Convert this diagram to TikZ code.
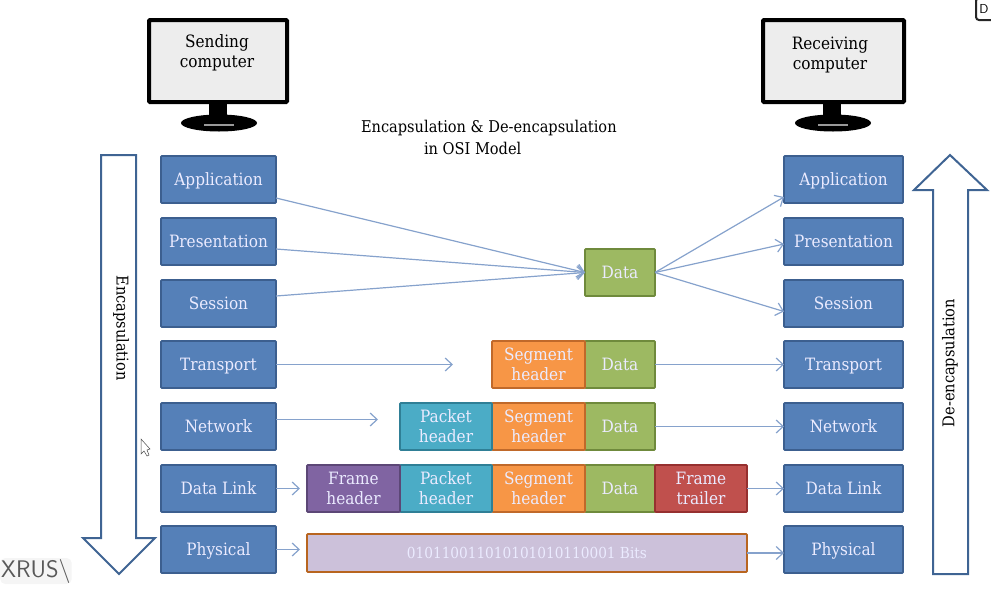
\documentclass[tikz,border=0pt]{standalone}
\usepackage{fontspec}
\setmainfont{DejaVu Serif Condensed}
\usetikzlibrary{arrows.meta,positioning,calc}
\definecolor{cBlue}{HTML}{5580B8}
\definecolor{cBlueLn}{HTML}{3C5F8F}
\definecolor{cLink}{HTML}{86A2CC}
\definecolor{cGreen}{HTML}{9DB962}
\definecolor{cGreenLn}{HTML}{6F8A3C}
\definecolor{cOrange}{HTML}{F79646}
\definecolor{cOrangeLn}{HTML}{C0692A}
\definecolor{cTeal}{HTML}{4BACC6}
\definecolor{cTealLn}{HTML}{2F7F96}
\definecolor{cPurple}{HTML}{8064A2}
\definecolor{cPurpleLn}{HTML}{5C4776}
\definecolor{cRed}{HTML}{C0504D}
\definecolor{cRedLn}{HTML}{96302F}
\definecolor{cLilac}{HTML}{CCC1DA}
\definecolor{cBitsLn}{HTML}{B8651F}
\definecolor{cArrowLn}{HTML}{3F6493}
\tikzset{
  x=1pt, y=-1pt,
  block/.style={draw, line width=1.8pt, rounded corners=0.8pt, align=center, text=white!92!blue,
    font=\fontsize{17}{20}\selectfont, inner sep=0pt, outer sep=0pt, minimum height=47pt, anchor=north west},
  layer/.style={block, draw=cBlueLn, fill=cBlue, minimum width=115pt, text height=15pt, text depth=3pt},
  rlayer/.style={layer, minimum width=119pt},
  datablk/.style={block, draw=cGreenLn, fill=cGreen, minimum width=70pt},
  seghdr/.style={block, draw=cOrangeLn, fill=cOrange, minimum width=93pt},
  pkthdr/.style={block, draw=cTealLn, fill=cTeal, minimum width=92pt},
  frmhdr/.style={block, draw=cPurpleLn, fill=cPurple, minimum width=93pt},
  frmtrl/.style={block, draw=cRedLn, fill=cRed, minimum width=92pt},
  flow/.style={-{Straight Barb[length=7pt,width=13pt]}, draw=cLink, line width=1.2pt},
  bigarrow/.style={draw=cArrowLn, line width=2pt, fill=white, miter limit=10},
  caption/.style={font=\fontsize{16.2}{20}\selectfont, text=black, inner sep=0pt, outer sep=0pt},
  screen/.style={draw=black, line width=4pt, rounded corners=1pt, fill=gray!14, minimum height=82pt,
    inner sep=0pt, outer sep=0pt, anchor=north west},
}
\begin{document}
\begin{tikzpicture}
    \useasboundingbox (0,0) rectangle (991,590);
    % --- monitors ---
    \foreach \mx/\mname/\mw in {147/sendmon/138,761/recvmon/141}{
      \fill[black] (\mx+62,104) rectangle (\mx+80,119);
      \fill[black] (\mx+72,123) ellipse [x radius=38pt, y radius=8.5pt];
      \fill[gray!80] (\mx+57,124) rectangle (\mx+87,126);
      \node[screen, minimum width=\mw pt] (\mname) at (\mx+2,20) {};
    }
    \node[caption, align=center, font=\fontsize{17}{20}\selectfont] (sendlbl) at (217,53) {Sending\\computer};
    \node[caption, align=center, font=\fontsize{17}{20}\selectfont] (recvlbl) at (830,55) {Receiving\\computer};
    % --- title ---
    \node[caption, anchor=west] (title) at (361,128) {Encapsulation \& De-encapsulation};
    \node[caption, anchor=west] (title2) at (424,148) {in OSI Model};
    % --- big arrows ---
    \draw[bigarrow] (101,155) -- (136,155) -- (136,538) -- (155,538) -- (119,574) -- (83,538)
      -- (101,538) -- cycle;
    \draw[bigarrow] (933,574) -- (968,574) -- (968,190) -- (987,190) -- (950,155) -- (914,190)
      -- (933,190) -- cycle;
    \node[caption, rotate=-90] (enclbl) at (121,328) {Encapsulation};
    \node[caption, rotate=90] (declbl) at (950,363) {De-encapsulation};
    % --- layers ---
    \node[layer] (lapp) at (161,156) {Application};
    \node[layer] (lpre) at (161,218) {Presentation};
    \node[layer] (lses) at (161,280) {Session};
    \node[layer] (ltra) at (161,341) {Transport};
    \node[layer] (lnet) at (161,403) {Network};
    \node[layer] (llnk) at (161,465) {Data Link};
    \node[layer] (lphy) at (161,526) {Physical};
    \node[rlayer] (rapp) at (784,156) {Application};
    \node[rlayer] (rpre) at (784,218) {Presentation};
    \node[rlayer] (rses) at (784,280) {Session};
    \node[rlayer] (rtra) at (784,341) {Transport};
    \node[rlayer] (rnet) at (784,403) {Network};
    \node[rlayer] (rlnk) at (784,465) {Data Link};
    \node[rlayer] (rphy) at (784,526) {Physical};
    % --- data units ---
    \node[datablk] (d1) at (585,249) {Data};
    \node[datablk] (d2) at (585,341) {Data};
    \node[seghdr, anchor=north east] (s2) at (d2.north west) {Segment\\header};
    \node[datablk] (d3) at (585,403) {Data};
    \node[seghdr, anchor=north east] (s3) at (d3.north west) {Segment\\header};
    \node[pkthdr, anchor=north east] (p3) at (s3.north west) {Packet\\header};
    \node[datablk] (d4) at (585,465) {Data};
    \node[seghdr, anchor=north east] (s4) at (d4.north west) {Segment\\header};
    \node[pkthdr, anchor=north east] (p4) at (s4.north west) {Packet\\header};
    \node[frmhdr, anchor=north east] (f4) at (p4.north west) {Frame\\header};
    \node[frmtrl, anchor=north west] (t4) at (d4.north east) {Frame\\trailer};
    \node[block, draw=cBitsLn, fill=cLilac, minimum width=440pt, minimum height=38pt,
      font=\fontsize{15.2}{18}\selectfont] (bits) at (307,534) {010110011010101010110001 Bits};
    % --- free ends ---
    \coordinate (e2) at (453,364.5);
    \coordinate (e3) at (378,419.5);
    \coordinate (e4) at (300,488.5);
    \coordinate (e5) at (300,549.5);
    % --- flows ---
    \draw[flow] ([yshift=-18.5pt]lapp.east) -- (d1.west);
    \draw[flow] ([yshift=-7.5pt]lpre.east) -- (d1.west);
    \draw[flow] ([yshift=7.5pt]lses.east) -- (d1.west);
    \draw[flow] (d1.east) -- ([yshift=-17.5pt]rapp.west);
    \draw[flow] (d1.east) -- ([yshift=-2.5pt]rpre.west);
    \draw[flow] (d1.east) -- ([yshift=-8pt]rses.west);
    \draw[flow] (ltra.east) -- (e2);
    \draw[flow] (lnet.east |- e3) -- (e3);
    \draw[flow] (llnk.east) -- (e4);
    \draw[flow] (lphy.east) -- (e5);
    \draw[flow] (d2.east) -- (rtra.west);
    \draw[flow] (d3.east) -- (rnet.west);
    \draw[flow] (t4.east) -- (rlnk.west);
    \draw[flow] (bits.east) -- (rphy.west |- bits.east);
    % --- cursor, logo and tab ---
    \draw[black!70, fill=white, line width=0.5pt] (141,439) -- (141,454) -- (144,451) -- (147,456)
      -- (149,455) -- (147,450) -- (150,449) -- cycle;
    \node[inner sep=1pt, anchor=west, fill=black!4, rounded corners=5pt, text=black!65,
      font=\fontsize{24}{24}\selectfont\sffamily] (logo) at (0,571) {XRUS\textbackslash};
    \node[draw=black!85, line width=2pt, fill=white, rounded corners=3pt, anchor=north west,
      minimum width=30pt, minimum height=22pt, font=\fontsize{13}{14}\selectfont\sffamily] (tab)
      at (975,-3) {\hspace*{-14pt}D};
\end{tikzpicture}
\end{document}
